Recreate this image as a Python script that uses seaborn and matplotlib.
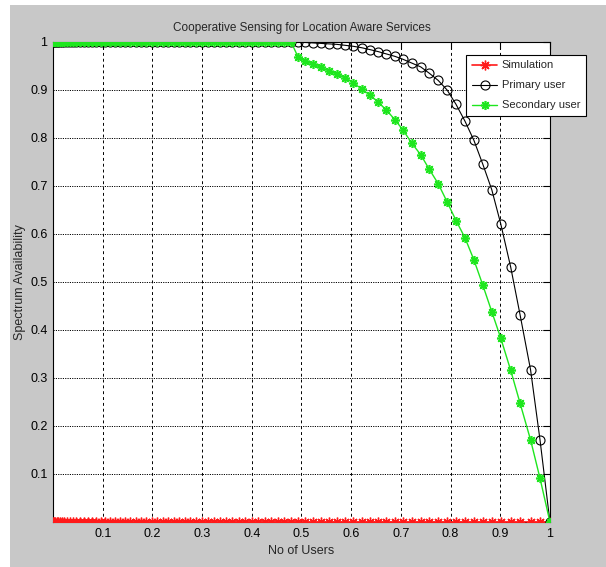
import numpy as np
import pandas as pd
import seaborn as sns
import matplotlib.pyplot as plt
from matplotlib.patches import Rectangle

# -----------------------------
# Data
# -----------------------------
x_users = [0.0, 0.002, 0.004, 0.007, 0.010, 0.014, 0.018, 0.023, 0.028, 0.034,
           0.040, 0.047, 0.054, 0.062, 0.070, 0.078, 0.087, 0.096,
           0.105, 0.115, 0.125, 0.135, 0.145, 0.155, 0.166, 0.177, 0.188, 0.199,
           0.210, 0.221, 0.232, 0.243, 0.254, 0.265, 0.276, 0.288, 0.300, 0.312,
           0.324, 0.336, 0.348, 0.361, 0.374, 0.387, 0.400, 0.413, 0.426, 0.439,
           0.452, 0.465, 0.479,
           0.493, 0.507, 0.523, 0.539, 0.555, 0.571, 0.588, 0.604, 0.621, 0.638,
           0.654, 0.671, 0.688, 0.704, 0.722, 0.740, 0.757, 0.775, 0.793, 0.811,
           0.829, 0.847, 0.865, 0.883, 0.901, 0.921, 0.940, 0.961, 0.980, 1.0]

sim_avail = [0.0] * len(x_users)

primary_avail = [1.0] * 51 + [
    0.999, 0.999, 0.998, 0.997, 0.996, 0.995, 0.993, 0.991, 0.988, 0.984,
    0.980, 0.975, 0.970, 0.964, 0.956, 0.948, 0.935, 0.920, 0.900, 0.870,
    0.835, 0.795, 0.745, 0.692, 0.621, 0.531, 0.431, 0.317, 0.171, 0.0]

secondary_avail = [1.0] * 51 + [
    0.969, 0.960, 0.954, 0.947, 0.940, 0.933, 0.925, 0.915, 0.902, 0.889,
    0.875, 0.858, 0.838, 0.817, 0.789, 0.765, 0.735, 0.705, 0.667, 0.628,
    0.592, 0.546, 0.493, 0.438, 0.383, 0.316, 0.247, 0.171, 0.091, 0.0]

tick_vals = [0.1, 0.2, 0.3, 0.4, 0.5, 0.6, 0.7, 0.8, 0.9, 1]
tick_labels = ['0.1', '0.2', '0.3', '0.4', '0.5', '0.6', '0.7', '0.8', '0.9', '1']

df = pd.DataFrame({'x': x_users, 'sim': sim_avail,
                   'primary': primary_avail, 'secondary': secondary_avail})

# -----------------------------
# Style
# -----------------------------
sns.set_style("white")
plt.rcParams['font.family'] = ['Liberation Sans Narrow', 'Liberation Sans', 'DejaVu Sans']

fig = plt.figure(figsize=(6.06, 5.67), dpi=100, facecolor='white')
# grey MATLAB-like figure background
fig.patches.append(Rectangle((0.017, 0), 0.983, 0.991, transform=fig.transFigure,
                             facecolor='#c8c8c8', edgecolor='none', zorder=-10))
ax = fig.add_axes([0.0875, 0.0794, 0.820, 0.8466])
ax.set_facecolor('white')

asterisk = (8, 2, 0)
sns.lineplot(data=df, x='x', y='sim', ax=ax, color='#ff1a1a', lw=1.2,
             marker=asterisk, markersize=7, mec='#ff1a1a', mew=1.0,
             label='Simulation', zorder=3)
sns.lineplot(data=df, x='x', y='primary', ax=ax, color='black', lw=0.8,
             marker='o', markersize=6.5, mfc='none', mec='black', mew=0.8,
             label='Primary user', zorder=4)
sns.lineplot(data=df, x='x', y='secondary', ax=ax, color='#1ee61e', lw=1.0,
             marker=asterisk, markersize=6.5, mec='#1ee61e', mew=1.2,
             label='Secondary user', zorder=5)

ax.set_xlim(0, 1)
ax.set_ylim(0, 1)
ax.set_xticks(tick_vals)
ax.set_xticklabels(tick_labels)
ax.set_yticks(tick_vals)
ax.set_yticklabels(tick_labels)
ax.tick_params(direction='in', length=5, width=0.8, top=True, right=True,
               labelsize=9, colors='black', pad=4)
for s in ax.spines.values():
    s.set_color('black')
    s.set_linewidth(0.8)

for v in tick_vals[:-1]:
    ax.axvline(v, color='black', lw=0.7, ls=(0, (3, 3)), zorder=1)
    ax.axhline(v, color='black', lw=0.7, ls=(0, (1.2, 1.2)), zorder=1)

ax.set_title('Cooperative Sensing for Location Aware Services', fontsize=8.5, pad=8)
ax.set_xlabel('No of Users', fontsize=9, labelpad=4)
ax.set_ylabel('Spectrum Availability', fontsize=9, labelpad=3)

leg = ax.legend(loc='upper right', bbox_to_anchor=(0.976, 0.913),
                bbox_transform=fig.transFigure, fontsize=8, frameon=True,
                fancybox=False, edgecolor='black', framealpha=1,
                handlelength=2.3, handletextpad=0.4, borderpad=0.5,
                labelspacing=0.9)
leg.get_frame().set_linewidth(0.8)

plt.savefig('out.png', dpi=100, facecolor=fig.get_facecolor())
